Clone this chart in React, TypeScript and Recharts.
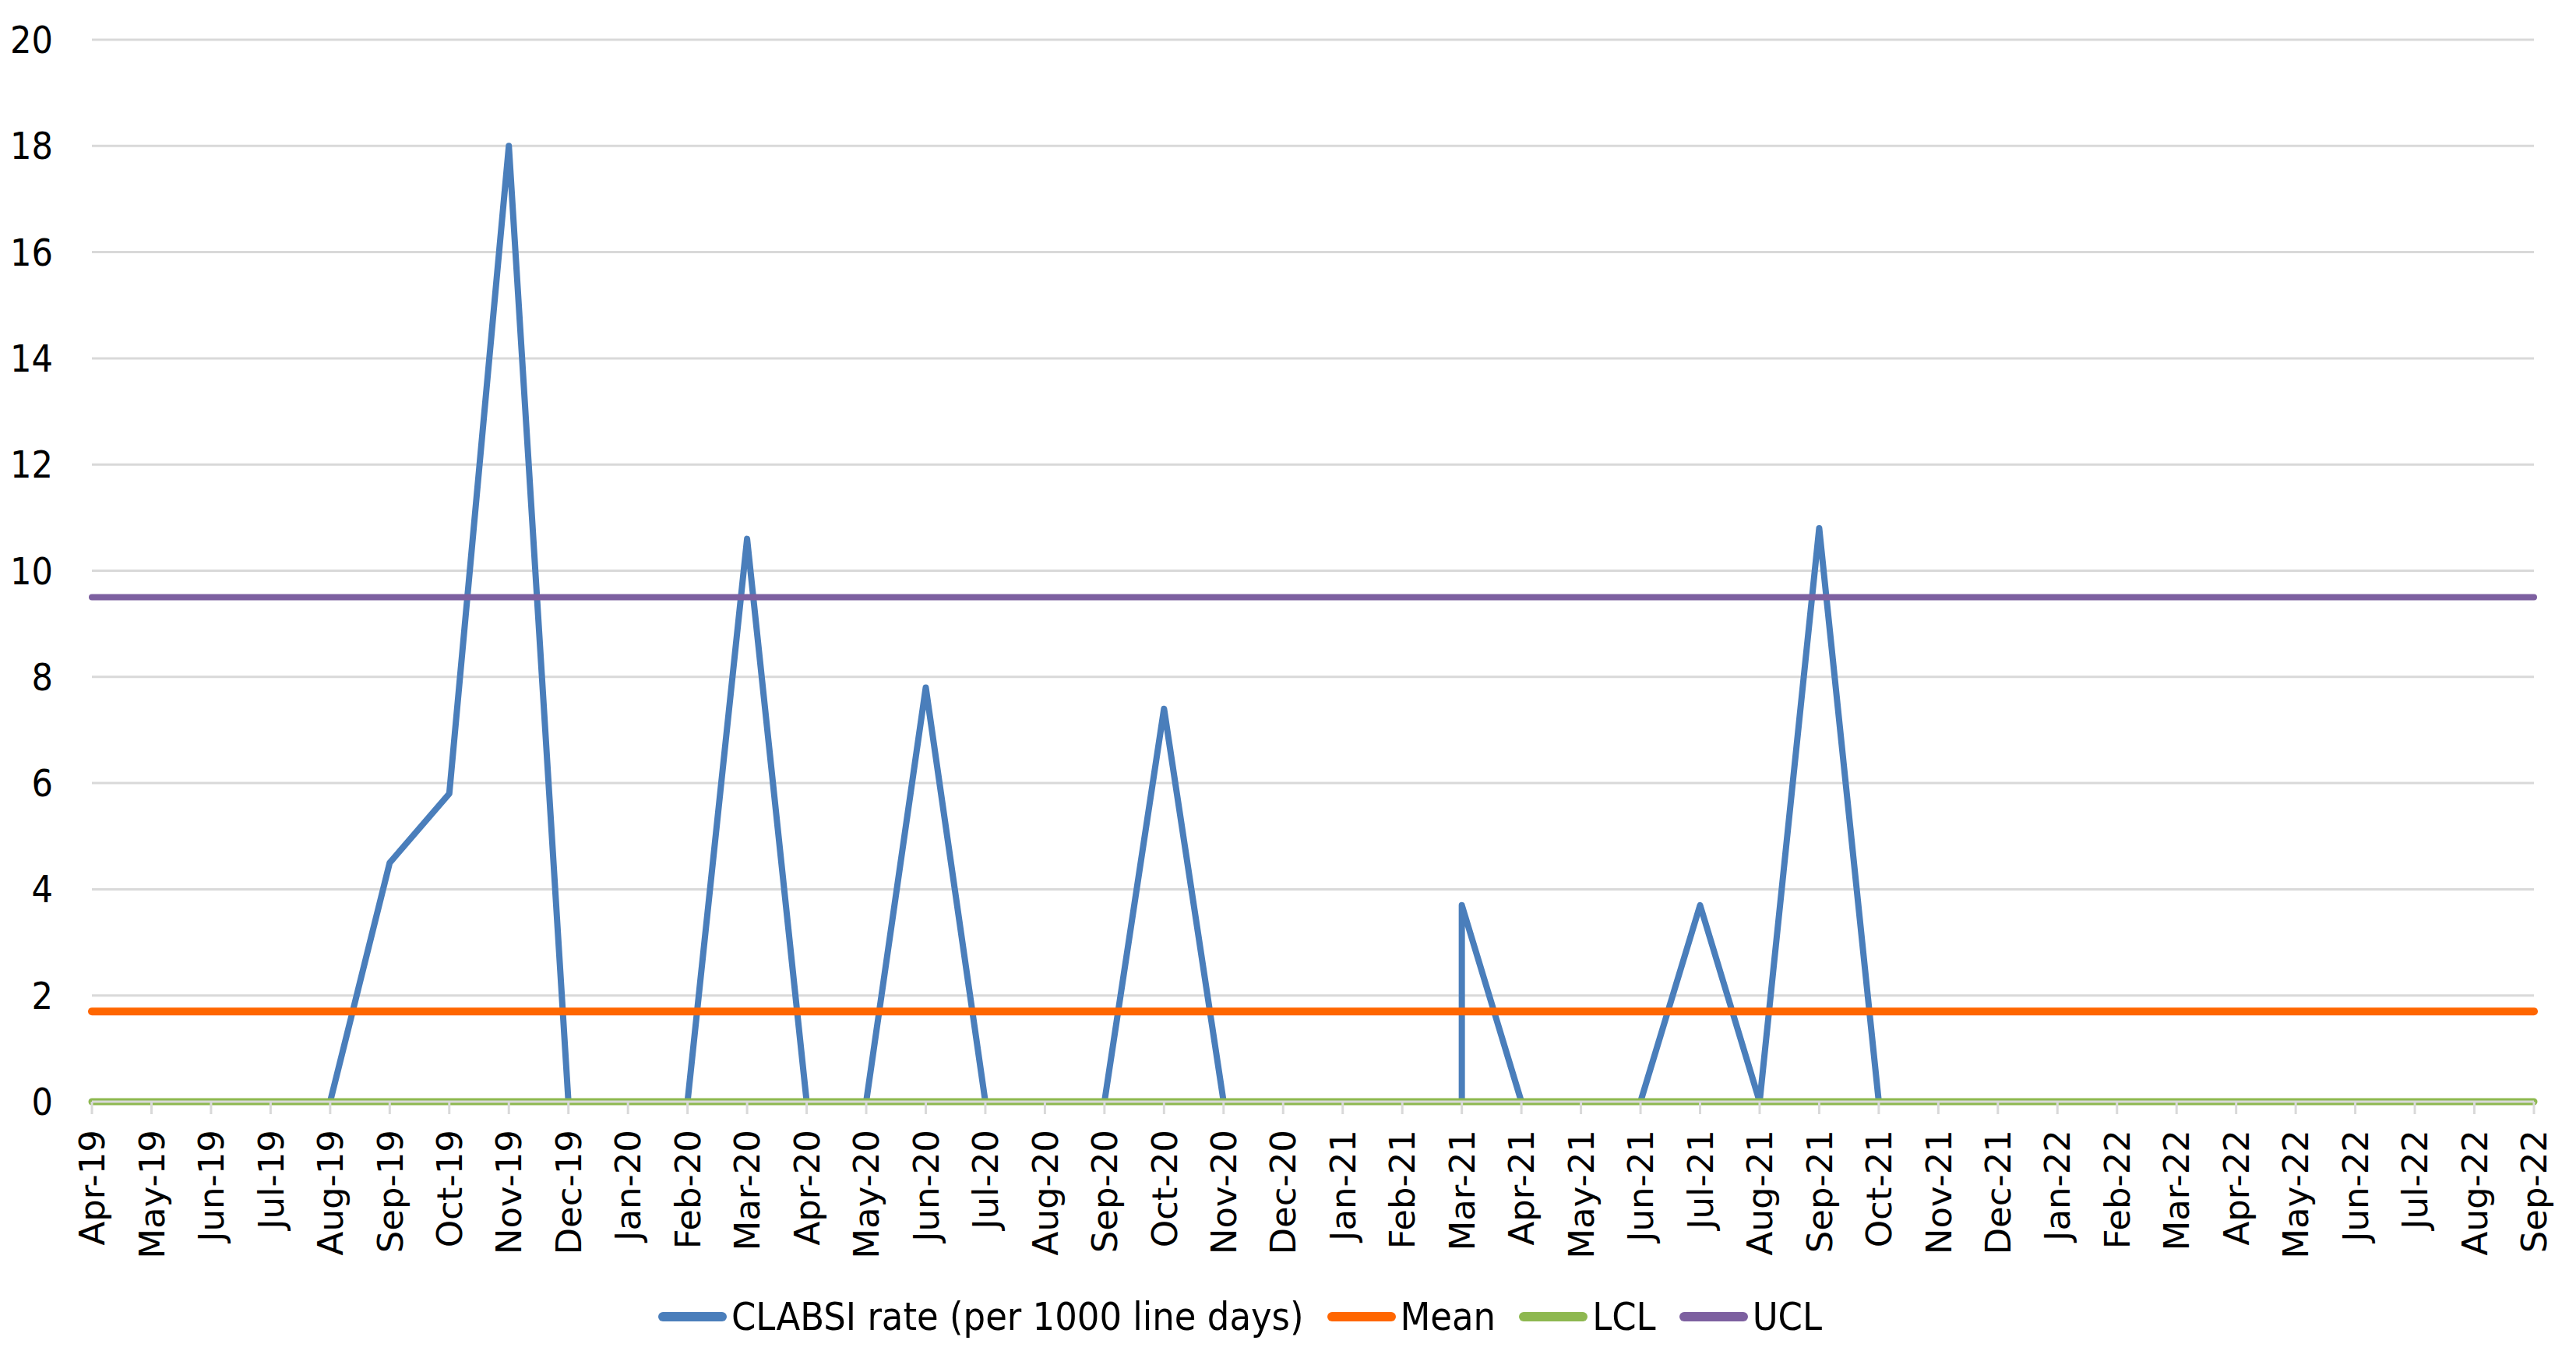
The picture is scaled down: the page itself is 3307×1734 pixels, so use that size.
import { CartesianGrid, Legend, Line, LineChart, XAxis, YAxis } from "recharts";

// month axis, Apr-19 .. Sep-22
const months = [
  "Apr-19", "May-19", "Jun-19", "Jul-19", "Aug-19", "Sep-19", "Oct-19", "Nov-19", "Dec-19",
  "Jan-20", "Feb-20", "Mar-20", "Apr-20", "May-20", "Jun-20", "Jul-20", "Aug-20", "Sep-20",
  "Oct-20", "Nov-20", "Dec-20", "Jan-21", "Feb-21", "Mar-21", "Apr-21", "May-21", "Jun-21",
  "Jul-21", "Aug-21", "Sep-21", "Oct-21", "Nov-21", "Dec-21", "Jan-22", "Feb-22", "Mar-22",
  "Apr-22", "May-22", "Jun-22", "Jul-22", "Aug-22", "Sep-22",
];

// CLABSI rate observations (Mar-21 has two entries on the same month)
const rateMonths = [
  "Apr-19", "May-19", "Jun-19", "Jul-19", "Aug-19", "Sep-19", "Oct-19", "Nov-19", "Dec-19",
  "Jan-20", "Feb-20", "Mar-20", "Apr-20", "May-20", "Jun-20", "Jul-20", "Aug-20", "Sep-20",
  "Oct-20", "Nov-20", "Dec-20", "Jan-21", "Feb-21", "Mar-21", "Mar-21", "Apr-21", "May-21",
  "Jun-21", "Jul-21", "Aug-21", "Sep-21", "Oct-21",
];
const rates = [
  0, 0, 0, 0, 0, 4.5, 5.8, 18, 0,
  0, 0, 10.6, 0, 0, 7.8, 0, 0, 0,
  7.4, 0, 0, 0, 0, 0, 3.7, 0, 0,
  0, 3.7, 0, 10.8, 0,
];

const MEAN = 1.7;
const LCL = 0;
const UCL = 9.5;

const yTicks = [0, 2, 4, 6, 8, 10, 12, 14, 16, 18, 20];

const COLORS = {
  rate: "#4A7EBB",
  mean: "#FF6600",
  lcl: "#8EB850",
  ucl: "#7D60A0",
  grid: "#D9D9D9",
};

const rateData = rateMonths.map((label, i) => ({
  m: months.indexOf(label),
  rate: rates[i],
}));

const limitData = months.map((_, i) => ({
  m: i,
  mean: MEAN,
  lcl: LCL,
  ucl: UCL,
}));

const legendItems = [
  { name: "CLABSI rate (per 1000 line days)", color: COLORS.rate },
  { name: "Mean", color: COLORS.mean },
  { name: "LCL", color: COLORS.lcl },
  { name: "UCL", color: COLORS.ucl },
];

function MonthTick({ x, y, payload }: any) {
  return (
    <text
      x={x}
      y={y}
      transform={`rotate(-90, ${x}, ${y})`}
      textAnchor="end"
      dy="0.36em"
      fontFamily="'DejaVu Sans', Verdana, sans-serif"
      fontSize={45}
      fill="#000"
    >
      {months[payload.value]}
    </text>
  );
}

function ChartLegend() {
  return (
    <div
      style={{
        height: 120,
        paddingTop: 32,
        boxSizing: "border-box",
        display: "flex",
        justifyContent: "center",
        paddingRight: 87,
        fontFamily: "'DejaVu Sans Condensed', 'DejaVu Sans', sans-serif",
        fontSize: 50,
        color: "#000",
      }}
    >
      {legendItems.map((item, i) => (
        <div
          key={item.name}
          style={{
            display: "flex",
            alignItems: "center",
            height: 88,
            marginLeft: i === 0 ? 0 : 30,
          }}
        >
          <span
            style={{
              display: "inline-block",
              width: 88,
              height: 12,
              borderRadius: 6,
              background: item.color,
              marginRight: 6,
            }}
          />
          <span>{item.name}</span>
        </div>
      ))}
    </div>
  );
}

export default function App() {
  return (
    <div
      style={{
        position: "absolute",
        left: 0,
        top: 0,
        width: 3307,
        height: 1734,
        background: "#fff",
      }}
    >
      <LineChart
        width={3307}
        height={1734}
        margin={{ top: 51, right: 54, left: 18, bottom: 0 }}
      >
        <CartesianGrid
          stroke={COLORS.grid}
          strokeWidth={3}
          vertical={false}
        />

        <XAxis
          type="number"
          dataKey="m"
          domain={[0, months.length - 1]}
          ticks={months.map((_, i) => i)}
          interval={0}
          height={200}
          axisLine={{ stroke: COLORS.grid, strokeWidth: 3 }}
          tickLine={{ stroke: COLORS.grid, strokeWidth: 3 }}
          tickSize={16}
          tickMargin={20}
          tick={<MonthTick />}
        />

        <YAxis
          domain={[0, 20]}
          ticks={yTicks}
          interval={0}
          width={100}
          axisLine={false}
          tickLine={false}
          tickSize={0}
          tickMargin={50}
          tick={{
            fontFamily: "'DejaVu Sans Condensed', 'DejaVu Sans', sans-serif",
            fontSize: 48,
            fill: "#000",
          }}
        />

        <Legend verticalAlign="bottom" content={<ChartLegend />} />

        <Line
          data={rateData}
          dataKey="rate"
          name="CLABSI rate (per 1000 line days)"
          stroke={COLORS.rate}
          strokeWidth={8}
          strokeLinejoin="round"
          strokeLinecap="round"
          dot={false}
          isAnimationActive={false}
        />
        <Line
          data={limitData}
          dataKey="mean"
          name="Mean"
          stroke={COLORS.mean}
          strokeWidth={10}
          strokeLinecap="round"
          dot={false}
          isAnimationActive={false}
        />
        <Line
          data={limitData}
          dataKey="lcl"
          name="LCL"
          stroke={COLORS.lcl}
          strokeWidth={9}
          strokeLinecap="round"
          dot={false}
          isAnimationActive={false}
        />
        <Line
          data={limitData}
          dataKey="ucl"
          name="UCL"
          stroke={COLORS.ucl}
          strokeWidth={8}
          strokeLinecap="round"
          dot={false}
          isAnimationActive={false}
        />
      </LineChart>
    </div>
  );
}
